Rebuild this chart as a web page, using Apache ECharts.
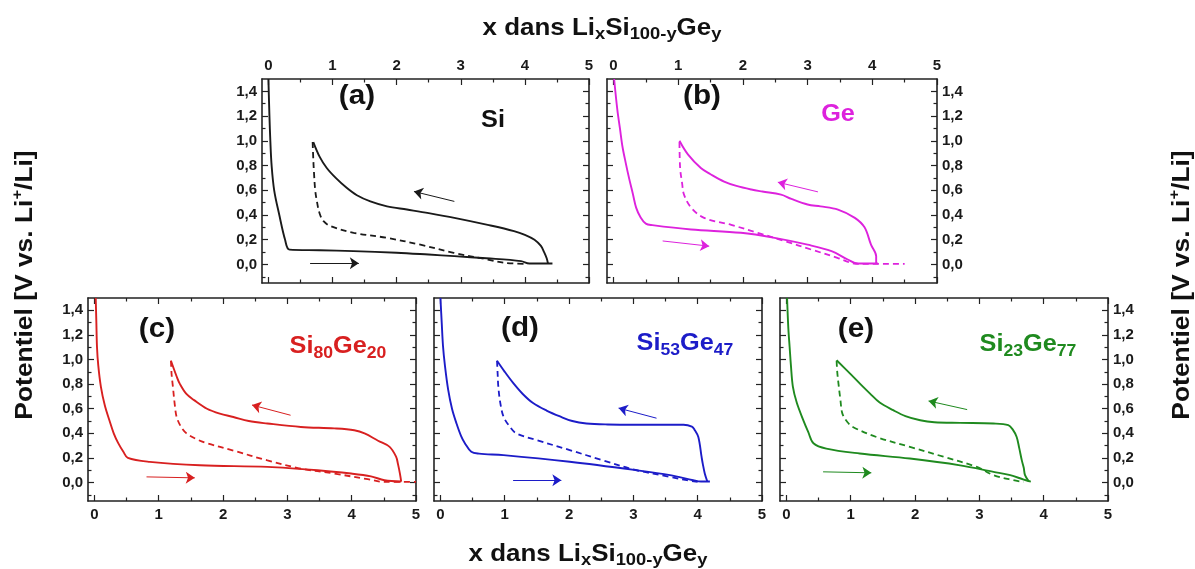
<!DOCTYPE html>
<html><head><meta charset="utf-8">
<script src="https://cdn.jsdelivr.net/npm/echarts@6/dist/echarts.min.js"></script>
<style>html,body{margin:0;padding:0;background:#fff}#c{width:1195px;height:569px}</style>
</head><body><div id="c"></div>
<script>
// ---------- tick values ----------
const xTicks = [0, 1, 2, 3, 4, 5];
const xMinorTicks = [0.5, 1.5, 2.5, 3.5, 4.5];
const yTicks = [0, 0.2, 0.4, 0.6, 0.8, 1.0, 1.2, 1.4];
const yMinorTicks = [-0.1, 0.1, 0.3, 0.5, 0.7, 0.9, 1.1, 1.3];

// ---------- (a) Si ----------
const siDischarge = [[0,1.5],[0.016,1.2],[0.03,1.0],[0.05,0.8],[0.09,0.6],[0.17,0.4],[0.26,0.2],[0.33,0.12],[0.8,0.115],[1.33,0.108],[2.0,0.095],[2.5,0.08],[2.9,0.067],[3.4,0.05],[3.94,0.027],[4.07,0.008],[4.43,0.008]];
const siCharge = [[4.36,0.008],[4.34,0.05],[4.3,0.1],[4.25,0.15],[4.15,0.2],[4.0,0.24],[3.83,0.27],[3.42,0.32],[2.9,0.377],[2.5,0.415],[2.16,0.444],[1.85,0.47],[1.59,0.51],[1.38,0.56],[1.22,0.62],[1.05,0.7],[0.91,0.78],[0.8,0.87],[0.7,0.99]];
const siDashed = [[0.69,0.99],[0.7,0.85],[0.71,0.75],[0.73,0.6],[0.76,0.5],[0.8,0.41],[0.86,0.35],[0.97,0.31],[1.33,0.256],[1.85,0.215],[2.37,0.16],[2.89,0.094],[3.42,0.04],[3.68,0.013],[4.04,0.005]];
const siArrows = [[[2.9,0.51],[2.27,0.59]], [[0.65,0.01],[1.41,0.01]]];

// ---------- (b) Ge ----------
const geDischarge = [[0.01,1.5],[0.06,1.25],[0.1,1.1],[0.14,0.95],[0.19,0.82],[0.24,0.7],[0.3,0.57],[0.35,0.46],[0.42,0.38],[0.5,0.33],[0.6,0.318],[1.2,0.283],[1.97,0.256],[2.49,0.215],[3.0,0.16],[3.37,0.108],[3.62,0.04],[3.78,0.008],[4.09,0.008]];
const geCharge = [[4.06,0.008],[4.06,0.067],[3.98,0.16],[3.88,0.3],[3.73,0.377],[3.47,0.444],[3.2,0.47],[3.0,0.485],[2.75,0.53],[2.59,0.565],[2.3,0.59],[2.13,0.606],[1.9,0.635],[1.71,0.67],[1.5,0.73],[1.35,0.78],[1.15,0.89],[1.02,1.0]];
const geDashed = [[1.02,0.99],[1.03,0.78],[1.06,0.66],[1.09,0.565],[1.2,0.46],[1.4,0.377],[1.82,0.32],[2.23,0.256],[2.64,0.19],[3.06,0.12],[3.46,0.054],[3.67,0.013],[3.8,0.005],[4.5,0.005]];
const geArrows = [[[3.16,0.587],[2.54,0.665]], [[0.76,0.19],[1.48,0.148]]];

// ---------- (c) Si80Ge20 ----------
const s80Discharge = [[0.02,1.5],[0.03,1.3],[0.04,1.1],[0.06,0.95],[0.1,0.78],[0.16,0.63],[0.23,0.51],[0.3,0.4],[0.37,0.32],[0.45,0.25],[0.52,0.2],[0.86,0.168],[1.64,0.14],[2.69,0.127],[3.47,0.1],[3.99,0.073],[4.3,0.05],[4.51,0.019],[4.77,0.008]];
const s80Charge = [[4.77,0.008],[4.75,0.073],[4.72,0.15],[4.69,0.21],[4.59,0.29],[4.41,0.34],[4.2,0.4],[4.04,0.425],[3.73,0.44],[3.21,0.452],[2.69,0.48],[2.4,0.5],[2.16,0.533],[1.95,0.56],[1.75,0.6],[1.55,0.67],[1.43,0.72],[1.33,0.8],[1.28,0.86],[1.19,0.99]];
const s80Dashed = [[1.19,0.99],[1.2,0.88],[1.22,0.78],[1.25,0.63],[1.28,0.53],[1.35,0.45],[1.43,0.4],[1.6,0.35],[1.75,0.32],[2.16,0.26],[2.69,0.18],[3.21,0.114],[3.73,0.073],[4.25,0.027],[4.51,0.005],[5.0,0.005]];
const s80Arrows = [[[3.05,0.547],[2.45,0.63]], [[0.81,0.046],[1.56,0.038]]];

// ---------- (d) Si53Ge47 ----------
const s53Discharge = [[0.0,1.5],[0.02,1.3],[0.04,1.11],[0.07,0.95],[0.12,0.755],[0.18,0.6],[0.25,0.48],[0.32,0.38],[0.38,0.32],[0.48,0.25],[0.6,0.235],[0.98,0.223],[2.01,0.169],[3.05,0.1],[3.57,0.06],[3.93,0.019],[4.05,0.008],[4.19,0.008]];
const s53Charge = [[4.15,0.008],[4.11,0.074],[4.08,0.15],[4.06,0.21],[4.01,0.37],[3.95,0.43],[3.91,0.455],[3.78,0.47],[3.05,0.47],[2.6,0.472],[2.27,0.48],[2.05,0.5],[1.86,0.537],[1.65,0.585],[1.44,0.646],[1.28,0.72],[1.13,0.81],[1.0,0.9],[0.88,0.99]];
const s53Dashed = [[0.88,0.99],[0.89,0.88],[0.9,0.78],[0.93,0.65],[0.98,0.537],[1.07,0.46],[1.18,0.4],[1.49,0.346],[2.01,0.264],[2.53,0.18],[3.05,0.1],[3.57,0.046],[3.83,0.019],[4.0,0.005]];
const s53Arrows = [[[3.36,0.523],[2.77,0.605]], [[1.13,0.019],[1.88,0.019]]];

// ---------- (e) Si23Ge77 ----------
const s23Discharge = [[0.01,1.5],[0.03,1.25],[0.05,1.1],[0.07,0.95],[0.1,0.78],[0.16,0.65],[0.26,0.51],[0.34,0.41],[0.42,0.32],[0.62,0.276],[1.14,0.236],[1.92,0.195],[2.7,0.14],[3.22,0.087],[3.48,0.06],[3.69,0.024],[3.8,0.008]];
const s23Charge = [[3.77,0.008],[3.71,0.06],[3.69,0.12],[3.66,0.18],[3.62,0.28],[3.58,0.37],[3.52,0.43],[3.45,0.466],[3.22,0.48],[2.7,0.485],[2.3,0.49],[2.08,0.506],[1.85,0.54],[1.66,0.588],[1.45,0.65],[1.3,0.723],[1.15,0.8],[0.99,0.885],[0.78,0.994]];
const s23Dashed = [[0.78,0.99],[0.79,0.9],[0.81,0.8],[0.84,0.67],[0.87,0.56],[0.95,0.49],[1.04,0.45],[1.4,0.37],[1.92,0.29],[2.44,0.21],[2.96,0.127],[3.22,0.06],[3.53,0.019],[3.69,0.005]];
const s23Arrows = [[[2.81,0.593],[2.21,0.663]], [[0.57,0.087],[1.32,0.079]]];

// ---------- panels ----------
const FONT = '"Liberation Sans", Arial, sans-serif';
const panels = [
  {grid:{left:262, top:79, width:327, height:204}, color:'#1a1a1a', xLab:'top', yLab:'left',
   dis:siDischarge, cha:siCharge, dash:siDashed, arr:siArrows},
  {grid:{left:607, top:79, width:330, height:204}, color:'#dd22dd', xLab:'top', yLab:'right',
   dis:geDischarge, cha:geCharge, dash:geDashed, arr:geArrows},
  {grid:{left:88, top:298, width:328, height:203}, color:'#d82020', xLab:'bottom', yLab:'left',
   dis:s80Discharge, cha:s80Charge, dash:s80Dashed, arr:s80Arrows},
  {grid:{left:434, top:298, width:328, height:203}, color:'#1c1cc8', xLab:'bottom', yLab:null,
   dis:s53Discharge, cha:s53Charge, dash:s53Dashed, arr:s53Arrows},
  {grid:{left:780, top:298, width:328, height:203}, color:'#1f8a1f', xLab:'bottom', yLab:'right',
   dis:s23Discharge, cha:s23Charge, dash:s23Dashed, arr:s23Arrows}
];

const grids = [], xAxes = [], yAxes = [], series = [];
const axisColor = '#222';
function mkAxis(kind, g, pos, values, len, showLabel, showLine) {
  const isX = kind === 'x';
  return {
    type:'value', gridIndex:g, position:pos,
    min: isX ? -0.1 : -0.15, max: isX ? 5 : 1.5,
    axisLine:{show:showLine, onZero:false, lineStyle:{color:axisColor, width:1.6}},
    axisTick:{show:true, inside:true, length:len, customValues:values, lineStyle:{color:axisColor, width:1.2}},
    axisLabel:{show:showLabel, customValues:values, color:'#1a1a1a', fontSize:15, fontWeight:'bold', fontFamily:FONT,
      margin: isX ? 6 : 5,
      formatter: v => isX ? String(Math.round(v)) : v.toFixed(1).replace('.', ',')},
    splitLine:{show:false}, minorTick:{show:false}
  };
}
panels.forEach((p, g) => {
  grids.push(Object.assign({containLabel:false, outerBoundsMode:'none'}, p.grid));
  xAxes.push(mkAxis('x', g, 'bottom', xTicks, 6, p.xLab === 'bottom', true));
  xAxes.push(mkAxis('x', g, 'top', xTicks, 6, p.xLab === 'top', true));
  xAxes.push(mkAxis('x', g, 'bottom', xMinorTicks, 3.5, false, false));
  xAxes.push(mkAxis('x', g, 'top', xMinorTicks, 3.5, false, false));
  yAxes.push(mkAxis('y', g, 'left', yTicks, 6, p.yLab === 'left', true));
  yAxes.push(mkAxis('y', g, 'right', yTicks, 6, p.yLab === 'right', true));
  yAxes.push(mkAxis('y', g, 'left', yMinorTicks, 3.5, false, false));
  yAxes.push(mkAxis('y', g, 'right', yMinorTicks, 3.5, false, false));
  const xi = g * 4, yi = g * 4;
  const base = {type:'line', xAxisIndex:xi, yAxisIndex:yi, showSymbol:false, symbol:'none', animation:false, silent:true, smooth:0.35};
  series.push(Object.assign({}, base, {data:p.dis, lineStyle:{color:p.color, width:1.9}}));
  series.push(Object.assign({}, base, {data:p.cha, lineStyle:{color:p.color, width:1.9}}));
  series.push(Object.assign({}, base, {data:p.dash, lineStyle:{color:p.color, width:1.8, type:[6,4]}}));
  series.push({type:'lines', coordinateSystem:'cartesian2d', xAxisIndex:xi, yAxisIndex:yi, animation:false, silent:true,
    symbol:['none','arrow'], symbolSize:9, lineStyle:{color:p.color, width:1, opacity:1},
    data:p.arr.map(c => ({coords:c}))});
});

// ---------- texts ----------
function richText(x, y, text, main, sub, color, rot, sx) {
  const rich = {
    m:{fontSize:main, fontWeight:'bold', fontFamily:FONT, fill:color, lineHeight:main + 6, verticalAlign:'middle'},
    s:{fontSize:sub, fontWeight:'bold', fontFamily:FONT, fill:color, lineHeight:sub, verticalAlign:'bottom'},
    p:{fontSize:sub, fontWeight:'bold', fontFamily:FONT, fill:color, lineHeight:sub, verticalAlign:'top'}
  };
  return {type:'text', x:x, y:y, rotation:rot || 0, scaleX:sx || 1, silent:true,
    style:{text:text, rich:rich, fill:color, align:'center', verticalAlign:'middle', textAlign:'center', textVerticalAlign:'middle'}};
}
const xTitle = '{m|x dans Li}{s|x}{m|Si}{s|100-y}{m|Ge}{s|y}';
const yTitle = '{m|Potentiel [V vs. Li}{p|+}{m|/Li]}';
const graphics = [
  richText(602, 28, xTitle, 24, 17, '#111', 0, 1.08),
  richText(588, 554, xTitle, 24, 17, '#111', 0, 1.08),
  richText(25, 285, yTitle, 24, 15, '#111', Math.PI / 2, 1.1),
  richText(1182, 285, yTitle, 24, 15, '#111', Math.PI / 2, 1.1),
  richText(357, 97, '{m|(a)}', 27, 18, '#111', 0, 1.1),
  richText(493, 121, '{m|Si}', 23, 16, '#111', 0, 1.1),
  richText(702, 97, '{m|(b)}', 27, 18, '#111', 0, 1.1),
  richText(838, 115, '{m|Ge}', 23, 16, '#dd22dd', 0, 1.1),
  richText(157, 330, '{m|(c)}', 27, 18, '#111', 0, 1.1),
  richText(338, 347, '{m|Si}{s|80}{m|Ge}{s|20}', 23, 16, '#d82020', 0, 1.1),
  richText(520, 329, '{m|(d)}', 27, 18, '#111', 0, 1.1),
  richText(685, 344, '{m|Si}{s|53}{m|Ge}{s|47}', 23, 16, '#1c1cc8', 0, 1.1),
  richText(856, 330, '{m|(e)}', 27, 18, '#111', 0, 1.1),
  richText(1028, 345, '{m|Si}{s|23}{m|Ge}{s|77}', 23, 16, '#1f8a1f', 0, 1.1)
];

const chart = echarts.init(document.getElementById('c'), null, {renderer:'canvas'});
chart.setOption({
  animation:false, backgroundColor:'#fff',
  grid:grids, xAxis:xAxes, yAxis:yAxes, series:series, graphic:graphics
});
</script></body></html>
